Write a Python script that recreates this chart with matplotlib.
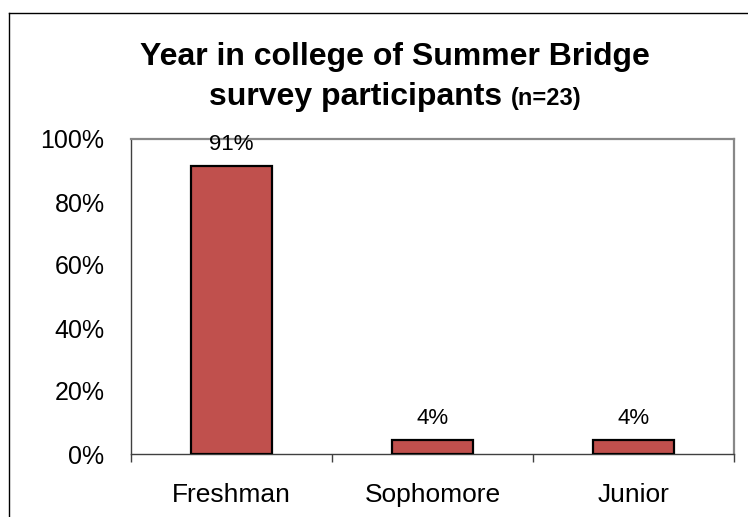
import matplotlib
matplotlib.use("Agg")
import matplotlib.pyplot as plt
from matplotlib.lines import Line2D
from matplotlib.ticker import PercentFormatter

categories = ["Freshman", "Sophomore", "Junior"]
values = [91.3, 4.3, 4.3]
value_labels = ["91%", "4%", "4%"]
yticks = [0, 20, 40, 60, 80, 100]

plt.rcParams['font.family'] = ['Liberation Sans', 'DejaVu Sans']

W, H = 748, 517
fig = plt.figure(figsize=(W / 100, H / 100), dpi=100)

# outer chart frame (cropped at right and bottom)
fig.add_artist(Line2D([9 / W, 9 / W], [0, 1 - 13 / H], transform=fig.transFigure, color='black', lw=1))
fig.add_artist(Line2D([9 / W, 1], [1 - 13 / H, 1 - 13 / H], transform=fig.transFigure, color='black', lw=1))

left, right, top, bottom = 131, 734, 139, 454
ax = fig.add_axes([left / W, 1 - bottom / H, (right - left) / W, (bottom - top) / H])

x = range(len(categories))
bars = ax.bar(x, values, width=0.4, color='#C0504D', edgecolor='black', linewidth=1.6, zorder=3)
ax.bar_label(bars, labels=value_labels, padding=8, fontsize=16)

ax.set_xlim(-0.5, 2.5)
ax.set_ylim(0, 100)
ax.set_yticks(yticks)
ax.yaxis.set_major_formatter(PercentFormatter(decimals=0))
ax.set_xticks(list(x))
ax.set_xticklabels(categories)
ax.set_xticks([-0.5, 0.5, 1.5, 2.5], minor=True)
ax.tick_params(axis='x', which='major', length=0, pad=21, labelsize=19)
ax.tick_params(axis='x', which='minor', length=6, width=1, color='#404040', direction='out')
ax.tick_params(axis='y', length=0, pad=19, labelsize=18)

for s in ['left', 'bottom']:
    ax.spines[s].set_color('#404040')
    ax.spines[s].set_linewidth(1.0)
for s in ['top', 'right']:
    ax.spines[s].set_color('#888888')
    ax.spines[s].set_linewidth(1.6)

# title: two lines, second with smaller "(n=23)"
cx = 395 / W
fig.text(cx, 1 - 57 / H, "Year in college of Summer Bridge", ha='center', va='center',
         fontsize=23, fontweight='bold')
fig.canvas.draw()
r = fig.canvas.get_renderer()
t1 = fig.text(0, 1 - 97 / H, "survey participants ", ha='left', va='center',
              fontsize=23, fontweight='bold')
t2 = fig.text(0, 1 - 97 / H, "(n=23)", ha='left', va='center',
              fontsize=17, fontweight='bold')
w1 = t1.get_window_extent(r).width / W
w2 = t2.get_window_extent(r).width / W
start = cx - (w1 + w2) / 2
t1.set_x(start)
t2.set_x(start + w1)
t2.set_y(1 - 98 / H)

fig.savefig("out.png", dpi=100)
